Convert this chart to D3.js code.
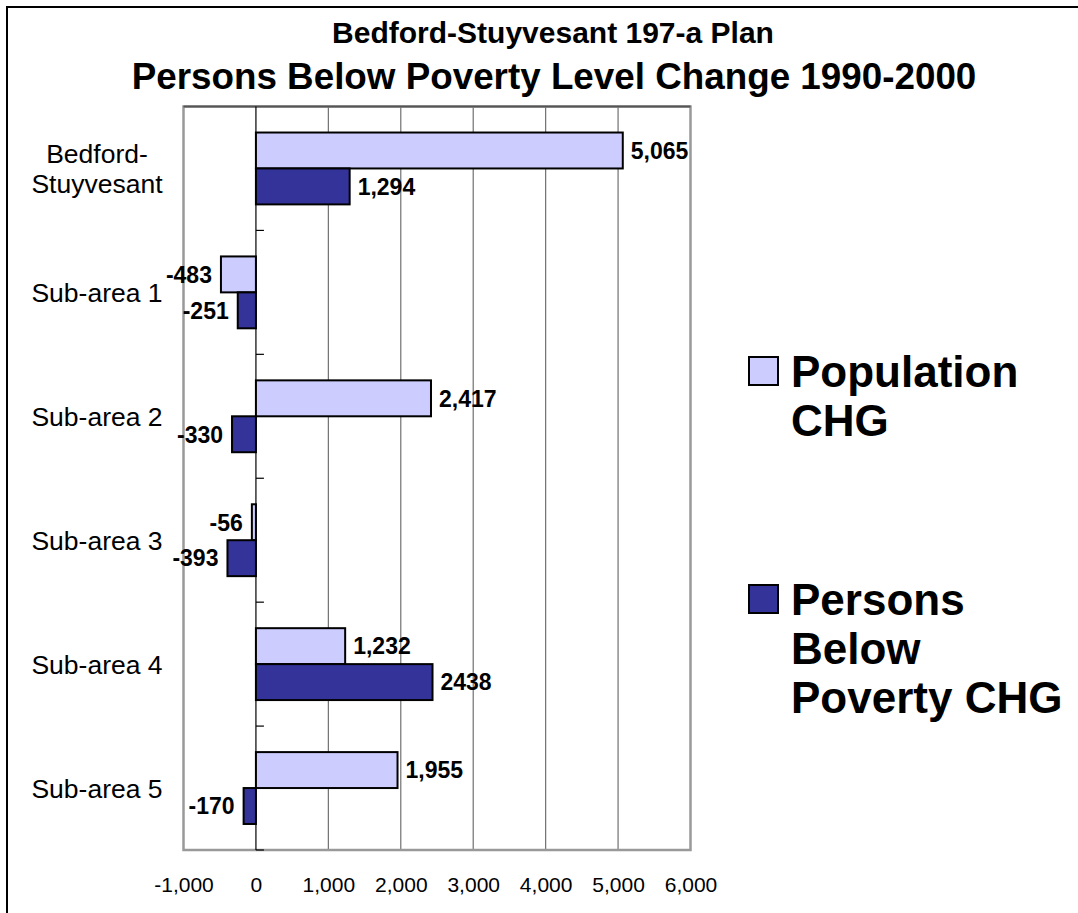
<!DOCTYPE html>
<html>
<head>
<meta charset="utf-8">
<script src="https://cdn.jsdelivr.net/npm/d3@7"></script>
<style>
  body { margin: 0; background: #fff; }
  text { font-family: "Liberation Sans", Arial, sans-serif; }
</style>
</head>
<body>
<svg id="chart"></svg>
<script>
// data
const categories = ["Bedford-Stuyvesant", "Sub-area 1", "Sub-area 2", "Sub-area 3", "Sub-area 4", "Sub-area 5"];
const seriesNames = ["Population CHG", "Persons Below Poverty CHG"];
const popChange = [5065, -483, 2417, -56, 1232, 1955];
const povChange = [1294, -251, -330, -393, 2438, -170];
const povLabels = ["1,294", "-251", "-330", "-393", "2438", "-170"];
const xTicks = [-1000, 0, 1000, 2000, 3000, 4000, 5000, 6000];
const legendLines = [["Population", "CHG"], ["Persons", "Below", "Poverty CHG"]];
const colors = ["#CCCCFF", "#333399"];

const width = 1078, height = 913;
const plot = { left: 183.5, right: 690.5, top: 106.5, bottom: 850 };

const fmt = d3.formatLocale({ decimal: ".", thousands: ",", grouping: [3], currency: ["$", ""], minus: "-" }).format(",");

const svg = d3.select('#chart')
  .attr('width', width)
  .attr('height', height);

// outer frame (runs off the right / bottom edge)
svg.append('rect')
  .attr('x', 7).attr('y', 7)
  .attr('width', width + 20).attr('height', height + 20)
  .attr('fill', 'none').attr('stroke', '#000').attr('stroke-width', 2);

// titles
svg.append('text')
  .attr('x', 553).attr('y', 43)
  .attr('text-anchor', 'middle')
  .attr('font-weight', 'bold').attr('font-size', 30)
  .text('Bedford-Stuyvesant 197-a Plan');
svg.append('text')
  .attr('x', 554).attr('y', 89)
  .attr('text-anchor', 'middle')
  .attr('font-weight', 'bold').attr('font-size', 36.8)
  .text('Persons Below Poverty Level Change 1990-2000');

const x = d3.scaleLinear().domain([-1000, 6000]).range([plot.left, plot.right]);
const y0 = d3.scaleBand().domain(categories).range([plot.top, plot.bottom])
  .paddingInner(0.42).paddingOuter(0.21);
const y1 = d3.scaleBand().domain([0, 1]).range([0, y0.bandwidth()]);
const step = y0.step();

// gridlines
svg.append('g')
  .selectAll('line')
  .data(xTicks.filter(t => t > 0 && t < 6000))
  .enter().append('line')
  .attr('x1', d => x(d)).attr('x2', d => x(d))
  .attr('y1', plot.top).attr('y2', plot.bottom)
  .attr('stroke', '#707070').attr('stroke-width', 1.2);

// plot border
svg.append('rect')
  .attr('x', plot.left).attr('y', plot.top)
  .attr('width', plot.right - plot.left).attr('height', plot.bottom - plot.top)
  .attr('fill', 'none').attr('stroke', '#999').attr('stroke-width', 2.5);
svg.append('line')
  .attr('x1', plot.left).attr('x2', plot.right)
  .attr('y1', plot.top).attr('y2', plot.top)
  .attr('stroke', '#555').attr('stroke-width', 2);

// category axis at zero, ticks pointing right
svg.append('line')
  .attr('x1', x(0)).attr('x2', x(0))
  .attr('y1', plot.top).attr('y2', plot.bottom)
  .attr('stroke', '#000').attr('stroke-width', 1.2);
svg.append('g')
  .selectAll('line')
  .data(d3.range(1, categories.length + 1))
  .enter().append('line')
  .attr('x1', x(0)).attr('x2', x(0) + 8)
  .attr('y1', i => plot.top + i * step).attr('y2', i => plot.top + i * step)
  .attr('stroke', '#000').attr('stroke-width', 1.2);

// value axis labels
const xAxis = svg.append('g')
  .attr('transform', `translate(0,${plot.bottom})`)
  .call(d3.axisBottom(x).tickValues(xTicks).tickSize(0).tickFormat(fmt));
xAxis.select('.domain').remove();
xAxis.selectAll('text')
  .attr('y', 42).attr('dy', 0)
  .attr('font-size', 21)
  .attr('fill', '#000')
  .style('font-family', '"Liberation Sans", Arial, sans-serif');

// category labels
const catLabels = svg.append('g')
  .selectAll('text')
  .data(categories)
  .enter().append('text')
  .attr('text-anchor', 'middle')
  .attr('font-size', 26.5);
catLabels.each(function (d) {
  const lines = d.length > 12 ? [d.slice(0, d.indexOf('-') + 1), d.slice(d.indexOf('-') + 1)] : [d];
  const cy = y0(d) + y0.bandwidth() / 2;
  const lh = 30;
  d3.select(this).selectAll('tspan')
    .data(lines)
    .enter().append('tspan')
    .attr('x', 97)
    .attr('y', (l, i) => cy + (i - (lines.length - 1) / 2) * lh)
    .attr('dy', '0.36em')
    .text(l => l);
});

// bars
const series = [popChange, povChange];
const rows = [];
series.forEach((vals, s) => vals.forEach((v, i) => rows.push({ s, cat: categories[i], v,
  label: s === 0 ? fmt(v) : povLabels[i] })));

svg.append('g')
  .selectAll('rect')
  .data(rows)
  .enter().append('rect')
  .attr('x', d => x(Math.min(0, d.v)))
  .attr('y', d => y0(d.cat) + y1(d.s))
  .attr('width', d => Math.abs(x(d.v) - x(0)))
  .attr('height', y1.bandwidth())
  .attr('fill', d => colors[d.s])
  .attr('stroke', '#000').attr('stroke-width', 2);

// data labels
svg.append('g')
  .selectAll('text')
  .data(rows)
  .enter().append('text')
  .attr('x', d => d.v >= 0 ? x(d.v) + 8 : x(d.v) - 9)
  .attr('y', d => y0(d.cat) + y1(d.s) + y1.bandwidth() / 2)
  .attr('dy', '0.36em')
  .attr('text-anchor', d => d.v >= 0 ? 'start' : 'end')
  .attr('font-weight', 'bold').attr('font-size', 23)
  .text(d => d.label);

// legend
const legendTop = [357, 585];
const legend = svg.append('g')
  .selectAll('g')
  .data(seriesNames)
  .enter().append('g')
  .attr('transform', (d, i) => `translate(749,${legendTop[i]})`);
legend.append('rect')
  .attr('width', 29).attr('height', 28)
  .attr('fill', (d, i) => colors[i])
  .attr('stroke', '#000').attr('stroke-width', 2);
legend.append('text')
  .attr('font-weight', 'bold').attr('font-size', 44)
  .each(function (d, i) {
    d3.select(this).selectAll('tspan')
      .data(legendLines[i])
      .enter().append('tspan')
      .attr('x', 42)
      .attr('y', (l, j) => 30 + j * 49)
      .text(l => l);
  });
</script>
</body>
</html>
